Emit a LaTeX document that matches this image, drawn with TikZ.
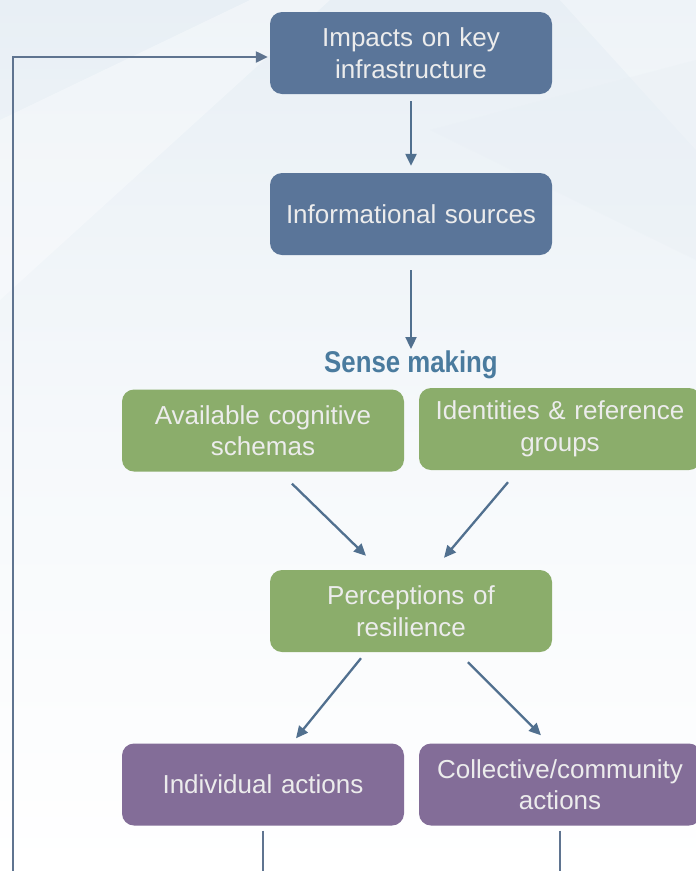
\documentclass[tikz,border=0pt]{standalone}
\usepackage{fontspec}
\setmainfont{Liberation Sans}
\newfontfamily\condfont[FakeStretch=0.86]{Liberation Sans}
\usetikzlibrary{arrows.meta,calc}
\definecolor{bluebox}{HTML}{5A7599}
\definecolor{greenbox}{HTML}{8BAD6B}
\definecolor{purplebox}{HTML}{836D98}
\definecolor{arrowcol}{HTML}{51708F}
\definecolor{linecol}{HTML}{5F7490}
\definecolor{sensecol}{HTML}{4A7B9E}
\definecolor{boxtext}{HTML}{ECECEC}
\definecolor{bgtop}{HTML}{E8EFF5}
\tikzset{
  box/.style={rectangle, rounded corners=12pt, minimum width=282pt, minimum height=82pt,
    inner sep=0pt, text width=276pt, align=center, text=boxtext,
    font=\fontsize{26}{31.5}\selectfont},
  bluenode/.style={box, fill=bluebox},
  greennode/.style={box, fill=greenbox},
  purplenode/.style={box, fill=purplebox},
  flow/.style={draw=arrowcol, line width=2.3pt, -{Triangle[length=12pt,width=11pt]}},
  plainline/.style={draw=linecol, line width=2.3pt},
}
\begin{document}
\begin{tikzpicture}[x=1pt,y=-1pt]
\useasboundingbox (0,0) rectangle (696,871);
\clip (0,0) rectangle (696,871);
\shade[top color=bgtop, bottom color=white, middle color=white!60!bgtop] (0,0) rectangle (696,871);
\fill[white, opacity=0.35] (0,120) -- (250,0) -- (330,0) -- (0,300) -- cycle;
\fill[white, opacity=0.3] (560,0) -- (696,150) -- (696,0) -- cycle;
\fill[bgtop, opacity=0.35] (430,130) -- (696,60) -- (696,260) -- cycle;

\node[bluenode] (impacts) at (411,53) {Impacts on key\\infrastructure};
\node[bluenode] (info) at (411,214) {Informational sources};
\node[font=\condfont\bfseries\fontsize{30}{32}\selectfont, text=sensecol, inner sep=0pt, anchor=north] (sense) at (411,351) {Sense making};
\node[greennode] (avail) at (263,430.5) {Available cognitive\\schemas};
\node[greennode] (ident) at (560,429) {\raisebox{-3pt}{\parbox{276pt}{\centering Identities \& reference\\groups}}};
\node[greennode] (perc) at (411,611) {Perceptions of\\resilience};
\node[purplenode] (indiv) at (263,784.5) {Individual actions};
\node[purplenode] (coll) at (560,784.5) {Collective/community\\actions};

\coordinate (indend) at (263,875);
\coordinate (collend) at (560,875);
\coordinate (loopstart) at (13,875);
\coordinate (loopcorner) at (13,57);

\draw[flow, shorten <=7pt, shorten >=7pt] (impacts.south) -- (info.north);
\draw[flow, shorten <=15pt, shorten >=2pt] (info.south) -- (sense.north);
\draw[flow] ([shift={(29,12)}]avail.south) -- ([shift={(-45,-14)}]perc.north);
\draw[flow] ([shift={(-52,12)}]ident.south) -- ([shift={(33,-12)}]perc.north);
\draw[flow] ([shift={(-50,6)}]perc.south) -- ([shift={(33,-5)}]indiv.north);
\draw[flow] ([shift={(57,10)}]perc.south) -- ([shift={(-19,-8)}]coll.north);
\draw[plainline] ([shift={(0,5)}]indiv.south) -- (indend);
\draw[plainline] ([shift={(0,5)}]coll.south) -- (collend);
\draw[plainline, -{Triangle[length=12pt,width=11pt]}, shorten >=2pt] (loopstart) -- (loopcorner) -- (loopcorner -| impacts.west);
\end{tikzpicture}
\end{document}
